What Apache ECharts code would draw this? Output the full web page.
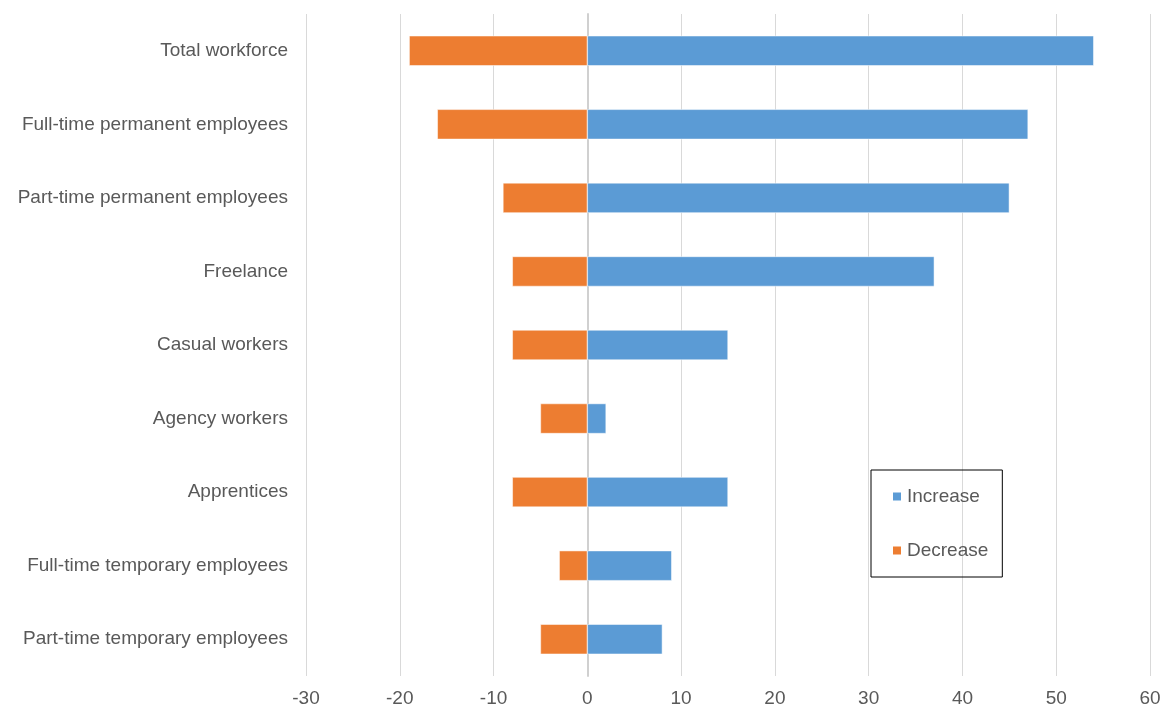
<!DOCTYPE html>
<html><head><meta charset="utf-8">
<script src="https://cdn.jsdelivr.net/npm/echarts@6/dist/echarts.min.js"></script>
<style>html,body{margin:0;padding:0;background:#fff}#c{width:1171px;height:709px}</style>
</head><body><div id="c"></div>
<script>
const categories = ["Total workforce","Full-time permanent employees","Part-time permanent employees","Freelance","Casual workers","Agency workers","Apprentices","Full-time temporary employees","Part-time temporary employees"];
const increase = [54,47,45,37,15,2,15,9,8];
const decrease = [-19,-16,-9,-8,-8,-5,-8,-3,-5];
const seriesNames = ["Increase","Decrease"];
const chart = echarts.init(document.getElementById('c'));
const font = 'Liberation Sans, Arial, sans-serif';
chart.setOption({
  animation:false,
  grid:{left:306,right:21,top:14,bottom:33,containLabel:false,outerBoundsMode:'none'},
  xAxis:{type:'value',min:-30,max:60,interval:10,
    axisLine:{show:false},axisTick:{show:false},
    axisLabel:{color:'#595959',fontSize:19,fontFamily:font,margin:13},
    splitLine:{lineStyle:{color:'#d9d9d9',width:1}}},
  yAxis:{type:'category',data:categories,inverse:true,
    axisLine:{show:true,onZero:true,lineStyle:{color:'#d0d0d0',width:2}},axisTick:{show:false},
    axisLabel:{color:'#595959',fontSize:19,fontFamily:font,margin:18}},
  legend:{orient:'vertical',left:871,top:470,
    data:seriesNames,icon:'rect',itemWidth:10,itemHeight:10,itemGap:35,
    padding:[17,14,17,20],borderColor:'#000',borderWidth:1,
    textStyle:{color:'#595959',fontSize:19,fontFamily:font}},
  series:[
    {name:seriesNames[0],type:'bar',stack:'s',data:increase,barWidth:30,
      itemStyle:{color:'#5B9BD5',borderColor:'#fff',borderWidth:0.5}},
    {name:seriesNames[1],type:'bar',stack:'s',data:decrease,barWidth:30,
      itemStyle:{color:'#ED7D31',borderColor:'#fff',borderWidth:0.5}}
  ]
});
</script></body></html>
